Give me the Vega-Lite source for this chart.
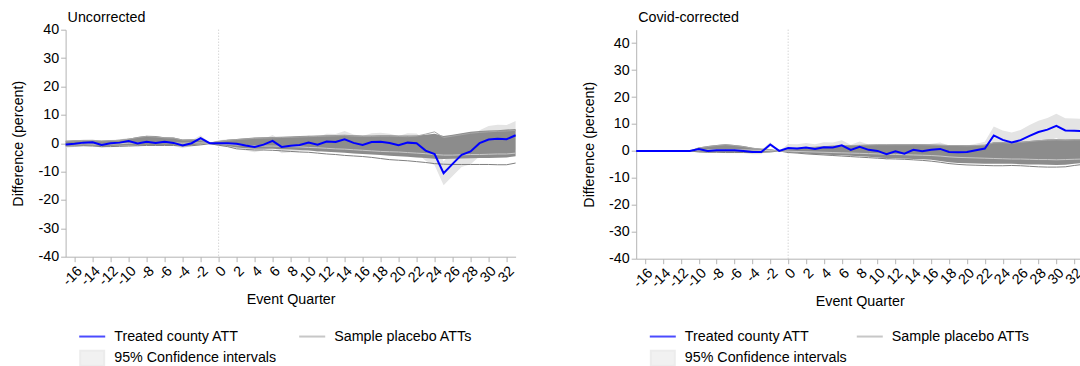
{
  "$schema": "https://vega.github.io/schema/vega-lite/v6.json",
  "padding": {"left": 11.6, "top": 9.7, "right": 0, "bottom": 0},
  "background": "white",
  "config": {
    "font": "Liberation Sans",
    "view": {"stroke": null},
    "axis": {"grid": false, "domainColor": "#b4b4b4", "tickColor": "#b4b4b4", "tickSize": 5, "labelColor": "#000", "titleColor": "#000", "labelFont": "Liberation Sans", "titleFont": "Liberation Sans", "labelFontSize": 14.3, "titleFontSize": 14.3, "titleFontWeight": "normal", "labelPadding": 2, "labelOverlap": false},
    "title": {"anchor": "start", "frame": "group", "font": "Liberation Sans", "fontSize": 14.3, "fontWeight": "normal", "color": "#000", "dx": 2},
    "legend": {"labelFont": "Liberation Sans", "labelFontSize": 14.3, "labelColor": "#000", "labelLimit": 400}
  },
  "datasets": {
    "U": [
      {"q": -17, "att": -0.5, "lo": -1.6, "hi": 0.6, "phi": 0.9, "plo": -0.9, "l1": -1.0, "l2": -0.4, "l3": 0.7},
      {"q": -16, "att": -0.2, "lo": -1.3, "hi": 0.9, "phi": 1.0, "plo": -0.8, "l1": -1.0, "l2": -0.3, "l3": 0.8},
      {"q": -15, "att": 0.2, "lo": -0.9, "hi": 1.3, "phi": 1.0, "plo": -0.8, "l1": -0.9, "l2": -0.2, "l3": 0.9},
      {"q": -14, "att": 0.3, "lo": -0.8, "hi": 1.4, "phi": 1.0, "plo": -0.9, "l1": -1.0, "l2": -0.3, "l3": 0.9},
      {"q": -13, "att": -0.6, "lo": -1.7, "hi": 0.5, "phi": 0.9, "plo": -1.0, "l1": -1.2, "l2": -0.4, "l3": 0.8},
      {"q": -12, "att": 0.0, "lo": -1.1, "hi": 1.1, "phi": 1.0, "plo": -1.0, "l1": -1.2, "l2": -0.3, "l3": 0.9},
      {"q": -11, "att": 0.2, "lo": -0.9, "hi": 1.3, "phi": 1.2, "plo": -0.9, "l1": -1.1, "l2": -0.2, "l3": 1.0},
      {"q": -10, "att": 0.8, "lo": -0.3, "hi": 1.9, "phi": 1.6, "plo": -0.8, "l1": -1.0, "l2": 0.0, "l3": 1.4},
      {"q": -9, "att": -0.1, "lo": -1.2, "hi": 1.0, "phi": 2.2, "plo": -0.7, "l1": -0.9, "l2": 0.1, "l3": 2.0},
      {"q": -8, "att": 0.5, "lo": -0.6, "hi": 1.6, "phi": 2.6, "plo": -0.6, "l1": -0.8, "l2": 0.3, "l3": 2.4},
      {"q": -7, "att": 0.1, "lo": -1.0, "hi": 1.2, "phi": 2.5, "plo": -0.6, "l1": -0.8, "l2": 0.2, "l3": 2.2},
      {"q": -6, "att": 0.5, "lo": -0.6, "hi": 1.6, "phi": 2.1, "plo": -0.6, "l1": -0.8, "l2": 0.2, "l3": 1.9},
      {"q": -5, "att": 0.1, "lo": -1.0, "hi": 1.2, "phi": 2.0, "plo": -0.6, "l1": -0.8, "l2": 0.1, "l3": 1.8},
      {"q": -4, "att": -0.8, "lo": -1.8, "hi": 0.2, "phi": 1.3, "plo": -0.9, "l1": -1.0, "l2": 0.0, "l3": 1.1},
      {"q": -3, "att": 0.0, "lo": -1.0, "hi": 1.0, "phi": 1.4, "plo": -0.7, "l1": -0.9, "l2": 0.1, "l3": 1.2},
      {"q": -2, "att": 1.8, "lo": 0.8, "hi": 2.8, "phi": 1.2, "plo": -0.5, "l1": -0.6, "l2": 0.1, "l3": 1.0},
      {"q": -1, "att": 0.0, "lo": -0.2, "hi": 0.2, "phi": 0.2, "plo": -0.2, "l1": -0.2, "l2": 0.0, "l3": 0.1},
      {"q": 0, "att": 0.0, "lo": -1.0, "hi": 1.0, "phi": 0.8, "plo": -0.6, "l1": -0.7, "l2": -0.2, "l3": 0.6},
      {"q": 1, "att": 0.0, "lo": -1.4, "hi": 1.4, "phi": 1.2, "plo": -1.0, "l1": -1.2, "l2": -0.4, "l3": 1.0},
      {"q": 2, "att": -0.2, "lo": -1.9, "hi": 1.5, "phi": 1.5, "plo": -1.5, "l1": -2.0, "l2": -0.6, "l3": 1.3},
      {"q": 3, "att": -0.8, "lo": -2.6, "hi": 1.0, "phi": 1.7, "plo": -1.8, "l1": -2.2, "l2": -0.8, "l3": 1.5},
      {"q": 4, "att": -1.3, "lo": -3.2, "hi": 0.6, "phi": 2.0, "plo": -2.0, "l1": -2.4, "l2": -0.9, "l3": 1.7},
      {"q": 5, "att": -0.5, "lo": -2.5, "hi": 1.5, "phi": 2.1, "plo": -2.0, "l1": -2.4, "l2": -1.0, "l3": 1.8},
      {"q": 6, "att": 0.8, "lo": -1.3, "hi": 2.9, "phi": 2.2, "plo": -2.0, "l1": -2.5, "l2": -1.0, "l3": 1.9},
      {"q": 7, "att": -1.3, "lo": -3.5, "hi": 0.9, "phi": 2.3, "plo": -2.1, "l1": -2.7, "l2": -1.1, "l3": 2.0},
      {"q": 8, "att": -0.9, "lo": -3.2, "hi": 1.4, "phi": 2.4, "plo": -2.2, "l1": -2.9, "l2": -1.2, "l3": 2.1},
      {"q": 9, "att": -0.6, "lo": -3.0, "hi": 1.8, "phi": 2.5, "plo": -2.4, "l1": -3.1, "l2": -1.3, "l3": 2.2},
      {"q": 10, "att": 0.2, "lo": -2.3, "hi": 2.7, "phi": 2.6, "plo": -2.6, "l1": -3.2, "l2": -1.5, "l3": 2.3},
      {"q": 11, "att": -0.5, "lo": -3.1, "hi": 2.1, "phi": 2.7, "plo": -2.8, "l1": -3.5, "l2": -1.6, "l3": 2.4},
      {"q": 12, "att": 0.6, "lo": -2.1, "hi": 3.3, "phi": 2.8, "plo": -3.0, "l1": -3.8, "l2": -1.8, "l3": 2.5},
      {"q": 13, "att": 0.4, "lo": -2.4, "hi": 3.2, "phi": 2.9, "plo": -3.2, "l1": -4.0, "l2": -2.0, "l3": 2.6},
      {"q": 14, "att": 1.4, "lo": -1.5, "hi": 4.3, "phi": 3.0, "plo": -3.4, "l1": -4.3, "l2": -2.1, "l3": 2.7},
      {"q": 15, "att": 0.1, "lo": -2.9, "hi": 3.1, "phi": 2.8, "plo": -3.6, "l1": -4.5, "l2": -2.3, "l3": 2.5},
      {"q": 16, "att": -0.6, "lo": -3.7, "hi": 2.5, "phi": 2.7, "plo": -3.8, "l1": -4.7, "l2": -2.5, "l3": 2.4},
      {"q": 17, "att": 0.4, "lo": -2.7, "hi": 3.5, "phi": 2.7, "plo": -4.0, "l1": -5.0, "l2": -2.7, "l3": 2.4},
      {"q": 18, "att": 0.5, "lo": -2.7, "hi": 3.7, "phi": 2.8, "plo": -4.2, "l1": -5.4, "l2": -2.9, "l3": 2.5},
      {"q": 19, "att": 0.1, "lo": -3.1, "hi": 3.3, "phi": 2.8, "plo": -4.4, "l1": -5.8, "l2": -3.0, "l3": 2.5},
      {"q": 20, "att": -0.7, "lo": -3.9, "hi": 2.5, "phi": 2.7, "plo": -4.6, "l1": -6.0, "l2": -3.1, "l3": 2.4},
      {"q": 21, "att": 0.2, "lo": -3.1, "hi": 3.5, "phi": 2.7, "plo": -4.8, "l1": -6.2, "l2": -3.3, "l3": 2.3},
      {"q": 22, "att": 0.0, "lo": -3.4, "hi": 3.4, "phi": 2.7, "plo": -5.0, "l1": -6.5, "l2": -3.5, "l3": 2.5},
      {"q": 23, "att": -2.6, "lo": -6.2, "hi": 1.0, "phi": 3.0, "plo": -5.2, "l1": -6.8, "l2": -3.7, "l3": 3.2},
      {"q": 24, "att": -3.8, "lo": -7.8, "hi": 0.2, "phi": 3.3, "plo": -5.5, "l1": -7.2, "l2": -4.0, "l3": 4.0},
      {"q": 25, "att": -10.6, "lo": -14.8, "hi": -6.4, "phi": 2.5, "plo": -5.6, "l1": -7.4, "l2": -4.2, "l3": 2.0},
      {"q": 26, "att": -7.3, "lo": -11.6, "hi": -3.0, "phi": 3.0, "plo": -5.5, "l1": -7.5, "l2": -4.2, "l3": 2.5},
      {"q": 27, "att": -4.1, "lo": -8.4, "hi": 0.2, "phi": 3.5, "plo": -5.4, "l1": -7.5, "l2": -4.1, "l3": 3.0},
      {"q": 28, "att": -2.9, "lo": -7.4, "hi": 1.6, "phi": 4.0, "plo": -5.3, "l1": -7.5, "l2": -4.0, "l3": 3.5},
      {"q": 29, "att": 0.0, "lo": -4.6, "hi": 4.6, "phi": 4.3, "plo": -5.2, "l1": -7.5, "l2": -4.0, "l3": 3.8},
      {"q": 30, "att": 1.3, "lo": -3.5, "hi": 6.1, "phi": 4.5, "plo": -5.2, "l1": -7.5, "l2": -3.9, "l3": 4.0},
      {"q": 31, "att": 1.6, "lo": -3.3, "hi": 6.5, "phi": 4.6, "plo": -5.1, "l1": -7.6, "l2": -3.8, "l3": 4.2},
      {"q": 32, "att": 1.4, "lo": -3.6, "hi": 6.4, "phi": 4.8, "plo": -5.0, "l1": -7.6, "l2": -3.8, "l3": 4.3},
      {"q": 33, "att": 2.8, "lo": -2.2, "hi": 7.8, "phi": 5.0, "plo": -4.6, "l1": -7.0, "l2": -3.5, "l3": 4.5}
    ],
    "C": [
      {"q": -17, "att": 0, "lo": 0, "hi": 0, "phi": 0, "plo": 0, "l1": 0, "l2": 0, "l3": 0},
      {"q": -16, "att": 0, "lo": 0, "hi": 0, "phi": 0, "plo": 0, "l1": 0, "l2": 0, "l3": 0},
      {"q": -15, "att": 0, "lo": 0, "hi": 0, "phi": 0, "plo": 0, "l1": 0, "l2": 0, "l3": 0},
      {"q": -14, "att": 0, "lo": 0, "hi": 0, "phi": 0, "plo": 0, "l1": 0, "l2": 0, "l3": 0},
      {"q": -13, "att": 0, "lo": 0, "hi": 0, "phi": 0, "plo": 0, "l1": 0, "l2": 0, "l3": 0},
      {"q": -12, "att": 0, "lo": 0, "hi": 0, "phi": 0, "plo": 0, "l1": 0, "l2": 0, "l3": 0},
      {"q": -11, "att": 0, "lo": 0, "hi": 0, "phi": 0, "plo": 0, "l1": 0, "l2": 0, "l3": 0},
      {"q": -10, "att": 0.75, "lo": 0.0, "hi": 1.5, "phi": 1.3, "plo": -0.3, "l1": -0.4, "l2": 0.3, "l3": 1.1},
      {"q": -9, "att": 0.0, "lo": -0.8, "hi": 0.8, "phi": 1.8, "plo": -0.4, "l1": -0.5, "l2": 0.4, "l3": 1.6},
      {"q": -8, "att": 0.25, "lo": -0.6, "hi": 1.1, "phi": 2.2, "plo": -0.4, "l1": -0.5, "l2": 0.5, "l3": 2.0},
      {"q": -7, "att": 0.25, "lo": -0.6, "hi": 1.1, "phi": 2.5, "plo": -0.4, "l1": -0.6, "l2": 0.5, "l3": 2.3},
      {"q": -6, "att": 0.25, "lo": -0.6, "hi": 1.1, "phi": 2.2, "plo": -0.5, "l1": -0.6, "l2": 0.5, "l3": 2.0},
      {"q": -5, "att": 0.0, "lo": -0.8, "hi": 0.8, "phi": 1.8, "plo": -0.5, "l1": -0.6, "l2": 0.4, "l3": 1.6},
      {"q": -4, "att": -0.4, "lo": -1.2, "hi": 0.4, "phi": 1.2, "plo": -0.5, "l1": -0.6, "l2": 0.3, "l3": 1.0},
      {"q": -3, "att": -0.4, "lo": -1.2, "hi": 0.4, "phi": 0.8, "plo": -0.4, "l1": -0.5, "l2": 0.2, "l3": 0.7},
      {"q": -2, "att": 2.4, "lo": 1.6, "hi": 3.2, "phi": 0.6, "plo": -0.3, "l1": -0.4, "l2": 0.1, "l3": 0.5},
      {"q": -1, "att": 0, "lo": 0, "hi": 0, "phi": 0, "plo": 0, "l1": 0, "l2": 0, "l3": 0},
      {"q": 0, "att": 1.1, "lo": -0.4, "hi": 2.6, "phi": 0.6, "plo": -0.5, "l1": -0.6, "l2": -0.1, "l3": 0.5},
      {"q": 1, "att": 0.9, "lo": -0.7, "hi": 2.5, "phi": 1.0, "plo": -0.7, "l1": -0.8, "l2": -0.2, "l3": 0.9},
      {"q": 2, "att": 1.25, "lo": -0.4, "hi": 2.9, "phi": 1.3, "plo": -1.0, "l1": -1.1, "l2": -0.3, "l3": 1.2},
      {"q": 3, "att": 0.75, "lo": -1.0, "hi": 2.5, "phi": 1.5, "plo": -1.2, "l1": -1.3, "l2": -0.4, "l3": 1.4},
      {"q": 4, "att": 1.4, "lo": -0.4, "hi": 3.2, "phi": 1.7, "plo": -1.3, "l1": -1.5, "l2": -0.5, "l3": 1.6},
      {"q": 5, "att": 1.25, "lo": -0.6, "hi": 3.1, "phi": 1.9, "plo": -1.5, "l1": -1.7, "l2": -0.6, "l3": 1.8},
      {"q": 6, "att": 2.1, "lo": 0.2, "hi": 4.0, "phi": 2.0, "plo": -1.6, "l1": -1.9, "l2": -0.7, "l3": 1.9},
      {"q": 7, "att": 0.4, "lo": -1.5, "hi": 2.3, "phi": 2.1, "plo": -1.8, "l1": -2.1, "l2": -0.8, "l3": 2.0},
      {"q": 8, "att": 1.5, "lo": -0.5, "hi": 3.5, "phi": 2.2, "plo": -2.0, "l1": -2.3, "l2": -0.9, "l3": 2.1},
      {"q": 9, "att": 0.4, "lo": -1.6, "hi": 2.4, "phi": 2.3, "plo": -2.2, "l1": -2.5, "l2": -1.0, "l3": 2.2},
      {"q": 10, "att": 0.0, "lo": -2.1, "hi": 2.1, "phi": 2.4, "plo": -2.4, "l1": -2.7, "l2": -1.1, "l3": 2.3},
      {"q": 11, "att": -1.25, "lo": -3.4, "hi": 0.9, "phi": 2.4, "plo": -2.6, "l1": -2.9, "l2": -1.2, "l3": 2.3},
      {"q": 12, "att": -0.1, "lo": -2.3, "hi": 2.1, "phi": 2.5, "plo": -2.7, "l1": -3.0, "l2": -1.3, "l3": 2.3},
      {"q": 13, "att": -1.0, "lo": -3.2, "hi": 1.2, "phi": 2.5, "plo": -2.8, "l1": -3.1, "l2": -1.4, "l3": 2.3},
      {"q": 14, "att": 0.4, "lo": -1.9, "hi": 2.7, "phi": 2.5, "plo": -3.0, "l1": -3.3, "l2": -1.5, "l3": 2.3},
      {"q": 15, "att": -0.1, "lo": -2.4, "hi": 2.2, "phi": 2.5, "plo": -3.1, "l1": -3.5, "l2": -1.6, "l3": 2.3},
      {"q": 16, "att": 0.4, "lo": -1.9, "hi": 2.7, "phi": 2.4, "plo": -3.3, "l1": -3.8, "l2": -1.7, "l3": 2.2},
      {"q": 17, "att": 0.75, "lo": -1.6, "hi": 3.1, "phi": 2.3, "plo": -3.7, "l1": -4.2, "l2": -1.9, "l3": 2.1},
      {"q": 18, "att": -0.4, "lo": -2.8, "hi": 2.0, "phi": 2.2, "plo": -4.2, "l1": -4.7, "l2": -2.2, "l3": 2.0},
      {"q": 19, "att": -0.5, "lo": -2.9, "hi": 1.9, "phi": 2.2, "plo": -4.5, "l1": -5.0, "l2": -2.4, "l3": 2.0},
      {"q": 20, "att": -0.4, "lo": -2.8, "hi": 2.0, "phi": 2.1, "plo": -4.6, "l1": -5.2, "l2": -2.5, "l3": 1.9},
      {"q": 21, "att": 0.25, "lo": -2.2, "hi": 2.7, "phi": 2.2, "plo": -4.7, "l1": -5.3, "l2": -2.6, "l3": 2.0},
      {"q": 22, "att": 0.9, "lo": -1.6, "hi": 3.4, "phi": 2.3, "plo": -4.8, "l1": -5.4, "l2": -2.7, "l3": 2.1},
      {"q": 23, "att": 5.75, "lo": 2.4, "hi": 9.1, "phi": 3.2, "plo": -4.8, "l1": -5.5, "l2": -2.8, "l3": 3.0},
      {"q": 24, "att": 4.1, "lo": 0.6, "hi": 7.6, "phi": 3.3, "plo": -4.8, "l1": -5.5, "l2": -2.9, "l3": 3.1},
      {"q": 25, "att": 3.1, "lo": -0.6, "hi": 6.8, "phi": 3.0, "plo": -4.8, "l1": -5.4, "l2": -3.0, "l3": 2.8},
      {"q": 26, "att": 4.0, "lo": 0.2, "hi": 7.8, "phi": 3.4, "plo": -4.9, "l1": -5.5, "l2": -3.0, "l3": 3.2},
      {"q": 27, "att": 5.6, "lo": 1.6, "hi": 9.6, "phi": 3.7, "plo": -5.0, "l1": -5.7, "l2": -3.1, "l3": 3.5},
      {"q": 28, "att": 7.0, "lo": 2.8, "hi": 11.2, "phi": 4.0, "plo": -5.0, "l1": -5.9, "l2": -3.2, "l3": 3.8},
      {"q": 29, "att": 7.9, "lo": 3.6, "hi": 12.2, "phi": 4.2, "plo": -5.1, "l1": -6.0, "l2": -3.2, "l3": 4.0},
      {"q": 30, "att": 9.3, "lo": 4.8, "hi": 13.8, "phi": 4.3, "plo": -5.2, "l1": -6.0, "l2": -3.3, "l3": 4.1},
      {"q": 31, "att": 7.6, "lo": 3.1, "hi": 12.1, "phi": 4.2, "plo": -5.1, "l1": -5.9, "l2": -3.2, "l3": 4.0},
      {"q": 32, "att": 7.5, "lo": 3.0, "hi": 12.0, "phi": 4.3, "plo": -4.8, "l1": -5.4, "l2": -3.1, "l3": 4.1},
      {"q": 33, "att": 7.4, "lo": 2.9, "hi": 11.9, "phi": 4.3, "plo": -4.4, "l1": -5.0, "l2": -3.0, "l3": 4.1}
    ]
  },
  "spacing": 62.6,
  "resolve": {
    "scale": {"x": "independent", "y": "independent", "fill": "independent", "stroke": "independent", "shape": "independent"},
    "legend": {"fill": "independent", "stroke": "independent", "shape": "independent"}
  },
  "hconcat": [
    {
      "width": 450,
      "height": 227,
      "title": {"text": "Uncorrected", "offset": -2.2},
      "data": {"name": "U"},
      "encoding": {
        "x": {"field": "q", "type": "quantitative", "title": "Event Quarter",
              "scale": {"domain": [-17, 33], "nice": false, "zero": false},
              "axis": {"values": [-16,-14,-12,-10,-8,-6,-4,-2,0,2,4,6,8,10,12,14,16,18,20,22,24,26,28,30,32], "labelAngle": -45, "titlePadding": 4, "labelExpr": "'' + datum.value"}}
      },
      "layer": [
        {"mark": {"type": "area", "color": "#e4e4e4"},
         "encoding": {"y": {"field": "lo", "type": "quantitative", "title": "Difference (percent)", "scale": {"domain": [-40, 40], "nice": false}, "axis": {"values": [-40,-30,-20,-10,0,10,20,30,40], "titlePadding": 12, "labelExpr": "'' + datum.value"}}, "y2": {"field": "hi"}}},
        {"data": {"values": [{"q": 0}]},
         "mark": {"type": "rule", "color": "#c4c4c4", "strokeDash": [1, 2], "strokeWidth": 1},
         "encoding": {"x": {"field": "q", "type": "quantitative"}}},
        {"mark": {"type": "area", "color": "#8c8c8c"},
         "encoding": {"y": {"field": "plo", "type": "quantitative", "title": "Difference (percent)", "axis": {"values": [-40,-30,-20,-10,0,10,20,30,40], "titlePadding": 12, "labelExpr": "'' + datum.value"}}, "y2": {"field": "phi"}}},
        {"mark": {"type": "line", "color": "#7e7e7e", "strokeWidth": 1},
         "encoding": {"y": {"field": "l1", "type": "quantitative", "title": "Difference (percent)", "axis": {"values": [-40,-30,-20,-10,0,10,20,30,40], "titlePadding": 12, "labelExpr": "'' + datum.value"}}}},
        {"mark": {"type": "line", "color": "#c8c8c8", "strokeWidth": 1},
         "encoding": {"y": {"field": "l2", "type": "quantitative", "title": "Difference (percent)", "axis": {"values": [-40,-30,-20,-10,0,10,20,30,40], "titlePadding": 12, "labelExpr": "'' + datum.value"}}}},
        {"mark": {"type": "line", "color": "#a6a6a6", "strokeWidth": 1},
         "encoding": {"y": {"field": "l3", "type": "quantitative", "title": "Difference (percent)", "axis": {"values": [-40,-30,-20,-10,0,10,20,30,40], "titlePadding": 12, "labelExpr": "'' + datum.value"}}}},
        {"mark": {"type": "line", "color": "#0000ff", "strokeWidth": 2},
         "encoding": {"y": {"field": "att", "type": "quantitative", "title": "Difference (percent)", "axis": {"values": [-40,-30,-20,-10,0,10,20,30,40], "titlePadding": 12, "labelExpr": "'' + datum.value"}}}},
        {"data": {"values": []},
         "mark": {"type": "point", "filled": true},
         "encoding": {
           "fill": {"field": "s", "type": "nominal", "scale": {"domain": ["Treated county ATT", "Sample placebo ATTs", "95% Confidence intervals"], "range": ["#0000ff", "#b0b0b0", "#e4e4e4"]},
                    "legend": {"title": null, "orient": "none", "direction": "horizontal", "legendX": 12.6, "legendY": 292.5, "columns": 2, "columnPadding": 18, "rowPadding": -6, "symbolSize": 676, "symbolStrokeWidth": 2, "labelOffset": 8}},
           "stroke": {"field": "s", "type": "nominal", "scale": {"domain": ["Treated county ATT", "Sample placebo ATTs", "95% Confidence intervals"], "range": ["#0000ff", "#b0b0b0", "#e4e4e4"]},
                    "legend": {"title": null, "orient": "none", "direction": "horizontal", "legendX": 12.6, "legendY": 292.5, "columns": 2, "columnPadding": 18, "rowPadding": -6, "symbolSize": 676, "symbolStrokeWidth": 2, "labelOffset": 8}},
           "shape": {"field": "s", "type": "nominal", "scale": {"domain": ["Treated county ATT", "Sample placebo ATTs", "95% Confidence intervals"], "range": ["stroke", "stroke", "M-0.92,-0.58H0.92V0.58H-0.92Z"]},
                    "legend": {"title": null, "orient": "none", "direction": "horizontal", "legendX": 12.6, "legendY": 292.5, "columns": 2, "columnPadding": 18, "rowPadding": -6, "symbolSize": 676, "symbolStrokeWidth": 2, "labelOffset": 8}}
         }}
      ]
    },
    {
      "width": 447,
      "height": 229,
      "title": {"text": "Covid-corrected", "offset": 3.8},
      "data": {"name": "C"},
      "encoding": {
        "x": {"field": "q", "type": "quantitative", "title": "Event Quarter",
              "scale": {"domain": [-17, 33], "nice": false, "zero": false},
              "axis": {"values": [-16,-14,-12,-10,-8,-6,-4,-2,0,2,4,6,8,10,12,14,16,18,20,22,24,26,28,30,32], "labelAngle": -45, "titlePadding": 4, "labelExpr": "'' + datum.value"}}
      },
      "layer": [
        {"mark": {"type": "area", "color": "#e4e4e4"},
         "encoding": {"y": {"field": "lo", "type": "quantitative", "title": "Difference (percent)", "scale": {"domain": [-40, 45], "nice": false}, "axis": {"values": [-40,-30,-20,-10,0,10,20,30,40], "titlePadding": 12, "labelExpr": "'' + datum.value"}}, "y2": {"field": "hi"}}},
        {"data": {"values": [{"q": 0}]},
         "mark": {"type": "rule", "color": "#c4c4c4", "strokeDash": [1, 2], "strokeWidth": 1},
         "encoding": {"x": {"field": "q", "type": "quantitative"}}},
        {"mark": {"type": "area", "color": "#8c8c8c"},
         "encoding": {"y": {"field": "plo", "type": "quantitative", "title": "Difference (percent)", "axis": {"values": [-40,-30,-20,-10,0,10,20,30,40], "titlePadding": 12, "labelExpr": "'' + datum.value"}}, "y2": {"field": "phi"}}},
        {"mark": {"type": "line", "color": "#7e7e7e", "strokeWidth": 1},
         "encoding": {"y": {"field": "l1", "type": "quantitative", "title": "Difference (percent)", "axis": {"values": [-40,-30,-20,-10,0,10,20,30,40], "titlePadding": 12, "labelExpr": "'' + datum.value"}}}},
        {"mark": {"type": "line", "color": "#c8c8c8", "strokeWidth": 1},
         "encoding": {"y": {"field": "l2", "type": "quantitative", "title": "Difference (percent)", "axis": {"values": [-40,-30,-20,-10,0,10,20,30,40], "titlePadding": 12, "labelExpr": "'' + datum.value"}}}},
        {"mark": {"type": "line", "color": "#a6a6a6", "strokeWidth": 1},
         "encoding": {"y": {"field": "l3", "type": "quantitative", "title": "Difference (percent)", "axis": {"values": [-40,-30,-20,-10,0,10,20,30,40], "titlePadding": 12, "labelExpr": "'' + datum.value"}}}},
        {"mark": {"type": "line", "color": "#0000ff", "strokeWidth": 2},
         "encoding": {"y": {"field": "att", "type": "quantitative", "title": "Difference (percent)", "axis": {"values": [-40,-30,-20,-10,0,10,20,30,40], "titlePadding": 12, "labelExpr": "'' + datum.value"}}}},
        {"data": {"values": []},
         "mark": {"type": "point", "filled": true},
         "encoding": {
           "fill": {"field": "s", "type": "nominal", "scale": {"domain": ["Treated county ATT", "Sample placebo ATTs", "95% Confidence intervals"], "range": ["#0000ff", "#b0b0b0", "#e4e4e4"]},
                    "legend": {"title": null, "orient": "none", "direction": "horizontal", "legendX": 12.6, "legendY": 292.5, "columns": 2, "columnPadding": 5, "rowPadding": -6, "symbolSize": 676, "symbolStrokeWidth": 2, "labelOffset": 8}},
           "stroke": {"field": "s", "type": "nominal", "scale": {"domain": ["Treated county ATT", "Sample placebo ATTs", "95% Confidence intervals"], "range": ["#0000ff", "#b0b0b0", "#e4e4e4"]},
                    "legend": {"title": null, "orient": "none", "direction": "horizontal", "legendX": 12.6, "legendY": 292.5, "columns": 2, "columnPadding": 5, "rowPadding": -6, "symbolSize": 676, "symbolStrokeWidth": 2, "labelOffset": 8}},
           "shape": {"field": "s", "type": "nominal", "scale": {"domain": ["Treated county ATT", "Sample placebo ATTs", "95% Confidence intervals"], "range": ["stroke", "stroke", "M-0.92,-0.58H0.92V0.58H-0.92Z"]},
                    "legend": {"title": null, "orient": "none", "direction": "horizontal", "legendX": 12.6, "legendY": 292.5, "columns": 2, "columnPadding": 5, "rowPadding": -6, "symbolSize": 676, "symbolStrokeWidth": 2, "labelOffset": 8}}
         }}
      ]
    }
  ]
}
